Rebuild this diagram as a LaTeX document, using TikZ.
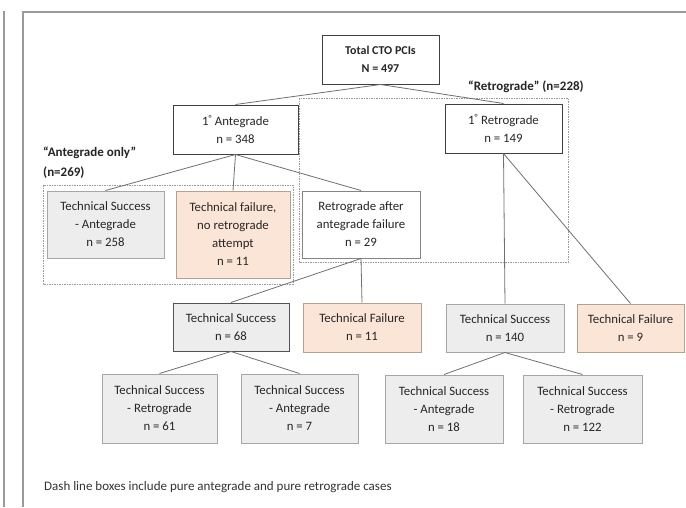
\documentclass[tikz,border=0pt]{standalone}
\usepackage{fontspec}
\setmainfont{Carlito}
\definecolor{gfill}{HTML}{EDEDED}
\definecolor{pfill}{HTML}{FBE5D6}
\definecolor{lgray}{HTML}{A6A6A6}
\definecolor{dgray}{HTML}{404040}
\definecolor{lnc}{HTML}{707070}
\definecolor{frm}{HTML}{9A9A9A}
\begin{document}
\begin{tikzpicture}[x=1pt,y=-1pt,
  box/.style={draw=lgray, line width=1pt, align=center, inner sep=1pt,
    font=\fontsize{12.8}{18}\selectfont, text=black!85},
  gbox/.style={box, fill=gfill},
  pbox/.style={box, fill=pfill, draw=lgray!90!orange},
  wbox/.style={box, fill=white},
  dbox/.style={box, fill=white, draw=dgray},
  conn/.style={draw=lnc, line width=0.8pt},
  dashbox/.style={draw=frm, line width=0.8pt, dash pattern=on 1.5pt off 1pt},
  lbl/.style={font=\bfseries\fontsize{13}{15}\selectfont, text=black!85, inner sep=0pt}
]
\useasboundingbox (0,0) rectangle (686,507);
\fill[white] (0,0) rectangle (686,507);
% frame
\draw[frm, line width=1.2pt] (4,11) -- (4,507);
\draw[frm, line width=1.2pt] (23,507) -- (23,12) -- (686,12);
% dashed groups
\draw[dashbox] (43,185) rectangle (293,284);
\draw[dashbox] (299,98) rectangle (568,262);
\node[lbl, anchor=west] (lao) at (43,153) {“Antegrade only”};
\node[lbl, anchor=west] (lan) at (43,173) {(n=269)};
\node[lbl, anchor=west] (lr) at (468,87) {“Retrograde” (n=228)};
% nodes
\node[dbox, minimum width=117, minimum height=49, font=\bfseries\fontsize{12}{18}\selectfont] (total) at (380.5,59.5) {Total CTO PCIs\\N = 497};
\node[dbox, minimum width=125, minimum height=49] (ante) at (235.5,129.5) {1\textsuperscript{°} Antegrade\\n = 348};
\node[dbox, minimum width=117, minimum height=49] (retro) at (503.5,128.5) {1\textsuperscript{°} Retrograde\\n = 149};
\node[gbox, minimum width=117, minimum height=67] (tsa) at (105.5,224.5) {Technical Success\\- Antegrade\\n = 258};
\node[pbox, minimum width=114, minimum height=87] (tfa) at (233,234.5) {Technical failure,\\no retrograde\\attempt\\n = 11};
\node[wbox, draw=lgray!80!black, minimum width=118, minimum height=67] (raf) at (361,224.5) {Retrograde after\\antegrade failure\\n = 29};
\node[gbox, draw=dgray!90, minimum width=116, minimum height=48] (ts68) at (231,327) {Technical Success\\n = 68};
\node[pbox, minimum width=118, minimum height=49] (tf11) at (362,327.5) {Technical Failure\\n = 11};
\node[gbox, minimum width=118, minimum height=48] (ts140) at (505,328) {Technical Success\\n = 140};
\node[pbox, minimum width=107, minimum height=48] (tf9) at (630.5,328) {Technical Failure\\n = 9};
\node[gbox, minimum width=115, minimum height=69] (ts61) at (159.5,408.5) {Technical Success\\- Retrograde\\n = 61};
\node[gbox, minimum width=117, minimum height=69] (ts7) at (299.5,408.5) {Technical Success\\- Antegrade\\n = 7};
\node[gbox, minimum width=118, minimum height=68] (ts18) at (444,409) {Technical Success\\- Antegrade\\n = 18};
\node[gbox, minimum width=119, minimum height=68] (ts122) at (582.5,409) {Technical Success\\- Retrograde\\n = 122};
\node[anchor=west, inner sep=0pt, font=\fontsize{13}{15}\selectfont, text=black!80] (note) at (44,487) {Dash line boxes include pure antegrade and pure retrograde cases};
% connectors
\draw[conn] (total.south) -- (ante.north);
\draw[conn] (total.south) -- (retro.north);
\draw[conn] (ante.south) -- (tsa.north);
\draw[conn] (ante.south) -- (tfa.north);
\draw[conn] (ante.south) -- (raf.north);
\draw[conn] (raf.south) -- (ts68.north);
\draw[conn] (raf.south) -- (tf11.north);
\draw[conn] (retro.south) -- (ts140.north);
\draw[conn] (retro.south) -- (tf9.north);
\draw[conn] (ts68.south) -- (ts61.north);
\draw[conn] (ts68.south) -- (ts7.north);
\draw[conn] (ts140.south) -- (ts18.north);
\draw[conn] (ts140.south) -- (ts122.north);
\end{tikzpicture}
\end{document}
